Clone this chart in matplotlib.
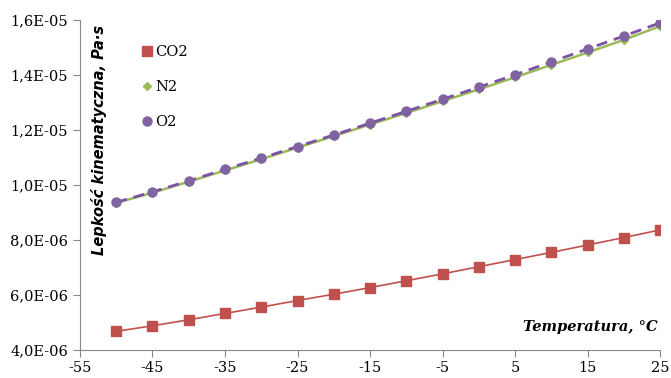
import matplotlib.pyplot as plt
from matplotlib.ticker import FuncFormatter, MultipleLocator

plt.rcParams['axes.unicode_minus'] = False

temps = [-50, -45, -40, -35, -30, -25, -20, -15, -10, -5, 0, 5, 10, 15, 20, 25]
co2 = [4.68e-6, 4.88e-6, 5.10e-6, 5.33e-6, 5.56e-6, 5.80e-6, 6.03e-6, 6.27e-6,
       6.52e-6, 6.77e-6, 7.03e-6, 7.29e-6, 7.55e-6, 7.82e-6, 8.09e-6, 8.37e-6]
n2 = [9.35e-6, 9.72e-6, 10.12e-6, 10.53e-6, 10.94e-6, 11.36e-6, 11.78e-6, 12.20e-6,
      12.62e-6, 13.05e-6, 13.48e-6, 13.92e-6, 14.37e-6, 14.82e-6, 15.28e-6, 15.78e-6]
o2 = [9.37e-6, 9.75e-6, 10.15e-6, 10.57e-6, 10.98e-6, 11.40e-6, 11.82e-6, 12.25e-6,
      12.68e-6, 13.12e-6, 13.56e-6, 14.01e-6, 14.48e-6, 14.95e-6, 15.42e-6, 15.90e-6]
xticks = [-55, -45, -35, -25, -15, -5, 5, 15, 25]

fig = plt.figure(figsize=(6.71, 3.78), dpi=100)
ax = fig.add_axes([0.119, 0.074, 0.865, 0.873])

ax.plot(temps, co2, color='#C0504D', marker='s', markersize=6.5, linewidth=1.2, label='CO2')
ax.plot(temps, n2, color='#9BBB59', marker='D', markersize=4.5, linewidth=1.8, label='N2')
ax.plot(temps, o2, color='#7B52A6', marker='o', markersize=6.5, linewidth=2, linestyle=(0, (4, 2.5)),
        markerfacecolor='#8064A2', markeredgecolor='#8064A2', label='O2')

ax.set_xlim(-55, 25)
ax.set_ylim(4e-6, 1.6e-5)
ax.set_xticks(xticks)
ax.yaxis.set_major_locator(MultipleLocator(2e-6))
ax.yaxis.set_major_formatter(FuncFormatter(lambda v, p: f"{v:.1E}".replace('.', ',')))

for s in ['top', 'right']:
    ax.spines[s].set_visible(False)
for s in ['left', 'bottom']:
    ax.spines[s].set_color('#888888')
ax.tick_params(colors='#888888', labelcolor='black', length=5, labelsize=10.5)
ax.tick_params(axis='x', pad=3)
for lab in ax.get_xticklabels() + ax.get_yticklabels():
    lab.set_family('DejaVu Serif')

ax.text(0.02, 0.985, 'Lepkość kinematyczna, Pa·s', transform=ax.transAxes, rotation=90,
        ha='left', va='top', fontsize=10.5, fontweight='bold', fontstyle='italic')
ax.text(0.995, 0.05, 'Temperatura, °C', transform=ax.transAxes, ha='right', va='bottom',
        fontsize=10.5, fontweight='bold', fontstyle='italic', family='DejaVu Serif')

leg = ax.legend(loc='upper left', bbox_to_anchor=(0.085, 0.965), frameon=False, handlelength=0.6,
                handletextpad=0.3, labelspacing=1.45, prop={'family': 'DejaVu Serif', 'size': 10.5})
for h in leg.get_lines():
    h.set_linestyle('none')

fig.savefig('out.png', dpi=100)
